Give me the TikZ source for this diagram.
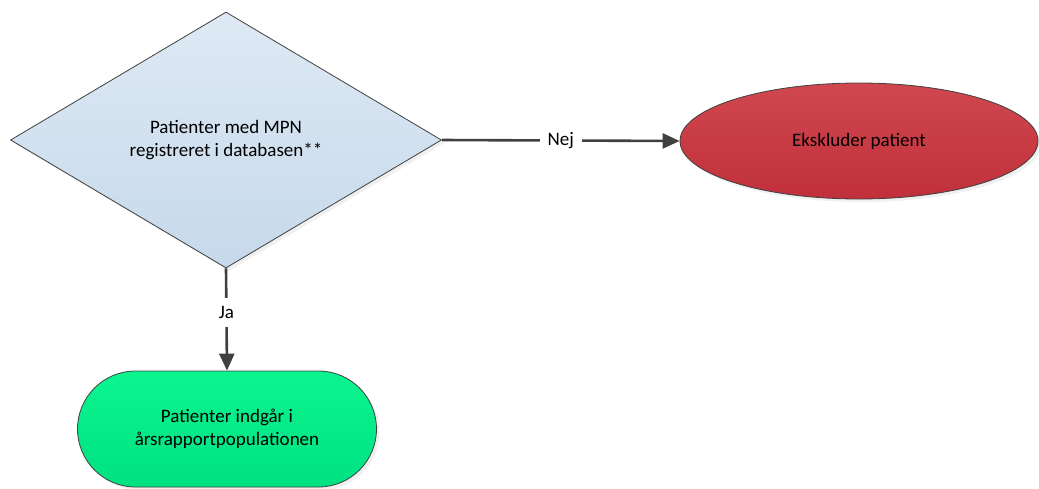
\documentclass[tikz,border=0pt]{standalone}
\usepackage{fontspec}
\setmainfont{Carlito}
\usetikzlibrary{arrows.meta, positioning, shapes.geometric, shapes.misc, shadows}

\definecolor{edgegray}{HTML}{404040}
\definecolor{blueTop}{HTML}{DEE9F4}
\definecolor{blueBot}{HTML}{C6D9EA}
\definecolor{redTop}{HTML}{D0474F}
\definecolor{redBot}{HTML}{C0303B}
\definecolor{greenTop}{HTML}{0AF58F}
\definecolor{greenBot}{HTML}{00E182}

\begin{document}
\begin{tikzpicture}[
    x=1pt, y=1pt,
    font=\fontsize{19}{23}\selectfont,
    box/.style={draw=edgegray, line width=0.8pt, align=center, inner sep=0pt,
        drop shadow={opacity=0.12, shadow xshift=3pt, shadow yshift=-3pt}},
    decision/.style={box, diamond, aspect=1.68, minimum width=431pt, minimum height=256pt,
        top color=blueTop, bottom color=blueBot},
    stopnode/.style={box, ellipse, minimum width=358pt, minimum height=116pt,
        top color=redTop, bottom color=redBot},
    result/.style={box, rounded rectangle, minimum width=299pt, minimum height=116pt,
        top color=greenTop, bottom color=greenBot},
    flow/.style={-{Triangle[length=17pt, width=15pt]}, draw=edgegray, line width=2.6pt},
    answer/.style={fill=white, inner sep=8pt}
]

\useasboundingbox (0,0) rectangle (1039,-488);

% Decision
\node[decision] (mpn) at (226,-140) {Patienter med MPN\\registreret i databasen**};

% Outcomes
\node[stopnode] (exclude) at (859,-141) {Ekskluder patient};
\node[result] (include) at (227,-429) {Patienter indgår i\\årsrapportpopulationen};

% Connectors
\draw[flow] (mpn.east) -- node[answer] {Nej} (exclude.west);
\draw[flow] (mpn.south) -- node[answer, pos=0.43] {Ja} (include.north);

\end{tikzpicture}
\end{document}
